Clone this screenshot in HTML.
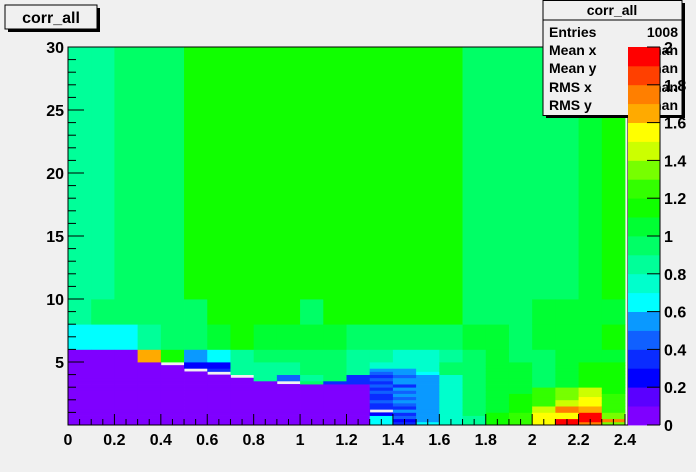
<!DOCTYPE html>
<html><head><meta charset="utf-8"><style>
html,body{margin:0;padding:0;background:#f0f0f0}
svg{display:block;font-family:"Liberation Sans",Arial,sans-serif;font-weight:bold}
</style></head><body>
<svg id="c" width="696" height="472" xmlns="http://www.w3.org/2000/svg">
<rect x="0" y="0" width="696" height="472" fill="#f0f0f0"/>
<g id="cells"></g>
<g id="axes"></g>
<g>
<rect x="8" y="8" width="92" height="24" fill="#000"/>
<rect x="5" y="5" width="92" height="24" fill="#f0f0f0" stroke="#000" stroke-width="1"/>
<text x="51" y="23" font-size="16" text-anchor="middle">corr_all</text>
</g>
<g>
<rect x="546" y="3" width="139" height="115" fill="#000"/>
<rect x="543" y="0.5" width="139" height="115" fill="#f0f0f0" stroke="#000"/>
<line x1="543" y1="20" x2="682" y2="20" stroke="#000"/>
<text x="612" y="15" font-size="14" text-anchor="middle">corr_all</text>
<text x="549" y="37" font-size="14">Entries</text>
<text x="678" y="37" font-size="14" text-anchor="end">1008</text>
<text x="549" y="55" font-size="14">Mean x</text>
<text x="678" y="55" font-size="14" text-anchor="end">nan</text>
<text x="549" y="73" font-size="14">Mean y</text>
<text x="678" y="73" font-size="14" text-anchor="end">nan</text>
<text x="549" y="92" font-size="14">RMS x</text>
<text x="678" y="92" font-size="14" text-anchor="end">nan</text>
<text x="549" y="110" font-size="14">RMS y</text>
<text x="678" y="110" font-size="14" text-anchor="end">nan</text>
</g>
<g id="cbar"></g>
</svg>
<script>
const xEdges=[0,0.1,0.2,0.3,0.4,0.5,0.6,0.7,0.8,0.9,1.0,1.1,1.2,1.3,1.4,1.5,1.6,1.7,1.8,1.9,2.0,2.1,2.2,2.3,2.4];
const yEdges=[0,0.25,0.5,0.75,1,1.25,1.5,1.75,2,2.25,2.5,2.75,3,3.25,3.5,3.75,4,4.25,4.5,4.75,5,6,8,10,30];
const xTicks=[0,0.2,0.4,0.6,0.8,1,1.2,1.4,1.6,1.8,2,2.2,2.4];
const xTickLabels=["0","0.2","0.4","0.6","0.8","1","1.2","1.4","1.6","1.8","2","2.2","2.4"];
const yTicks=[5,10,15,20,25,30];
const zTicks=[0,0.2,0.4,0.6,0.8,1,1.2,1.4,1.6,1.8,2];
const zTickLabels=["0","0.2","0.4","0.6","0.8","1","1.2","1.4","1.6","1.8","2"];
const palette=["#7f00ff","#5a00ff","#0000ff","#0a2cff","#1060ff","#0a99ff","#00ffff","#00ffcc","#00ff99","#00ff66","#00ff33","#10ff00","#33ff00","#77ff00","#ccff00","#ffff00","#ffaa00","#ff7f00","#ff4000","#ff0000"];
// each column: values bottom (y=0) to top (y=30), 24 bins; null = empty
const col00=[.05,.05,.05,.05,.05,.05,.05,.05,.05,.05,.05,.05,.05,.05,.05,.05,.05,.05,.05,.05,.05,.65,.85,.85];
const col01=[.05,.05,.05,.05,.05,.05,.05,.05,.05,.05,.05,.05,.05,.05,.05,.05,.05,.05,.05,.05,.05,.65,.9,.85];
const col02=[.05,.05,.05,.05,.05,.05,.05,.05,.05,.05,.05,.05,.05,.05,.05,.05,.05,.05,.05,.05,.05,.65,.9,.95];
const col03=[.05,.05,.05,.05,.05,.05,.05,.05,.05,.05,.05,.05,.05,.05,.05,.05,.05,.05,.05,.05,1.65,.85,.9,.95];
const col04=[.05,.05,.05,.05,.05,.05,.05,.05,.05,.05,.05,.05,.05,.05,.05,.05,.05,.05,.05,null,1.15,.9,.95,.95];
const col05=[.05,.05,.05,.05,.05,.05,.05,.05,.05,.05,.05,.05,.05,.05,.05,.05,.05,null,.25,.25,.55,.95,.95,1.1];
const col06=[.05,.05,.05,.05,.05,.05,.05,.05,.05,.05,.05,.05,.05,.05,.05,.05,null,.3,.25,.25,.65,1.05,1.1,1.1];
const col07=[.05,.05,.05,.05,.05,.05,.05,.05,.05,.05,.05,.05,.05,.05,.05,null,.85,.85,.85,.85,.85,1.1,1.1,1.1];
const col08=[.05,.05,.05,.05,.05,.05,.05,.05,.05,.05,.05,.05,.05,.05,.8,.8,.85,.85,.85,.85,.9,1.05,1.1,1.1];
const col09=[.05,.05,.05,.05,.05,.05,.05,.05,.05,.05,.05,.05,.05,null,.45,.45,.85,.85,.85,.85,.9,1.05,1.1,1.1];
const col10=[.05,.05,.05,.05,.05,.05,.05,.05,.05,.05,.05,.05,.05,.9,.85,.85,.9,.9,.9,.9,.95,1.05,.95,1.1];
const col11=[.05,.05,.05,.05,.05,.05,.05,.05,.05,.05,.05,.05,.05,.35,.9,.9,.9,.9,.9,.9,.9,1.05,1.1,1.1];
const col12=[.05,.05,.05,.05,.05,.05,.05,.05,.05,.05,.05,.05,.05,.35,.35,.35,.85,.85,.85,.85,.85,.95,1.1,1.1];
const col13=[.65,.6,.65,.25,null,.3,.35,.45,.3,.35,.45,.3,.45,.35,.45,.35,.45,.5,.7,.7,.8,.95,1.1,1.1];
const col14=[.3,.25,.45,.3,.5,.35,.45,.5,.4,.55,.45,.5,.35,.5,.55,.45,.5,.55,.7,.7,.75,.95,1.1,1.1];
const col15=[.6,.55,.5,.55,.5,.55,.5,.55,.5,.55,.5,.55,.5,.55,.5,.55,.65,.7,.7,.7,.75,.95,1.1,1.1];
const col16=[.7,.7,.7,.7,.7,.7,.7,.7,.7,.7,.7,.7,.7,.7,.7,.7,.9,.9,.9,.9,.8,.95,1.1,1.1];
const col17=[.85,.85,.85,.9,.9,.9,.9,.9,.9,.9,.9,.9,.9,.9,.9,.9,.9,.9,.9,.9,.95,1.0,.95,.95];
const col18=[1.15,1.15,1.15,1.15,1.05,1.05,1.05,1.05,1.0,1.0,1.0,1.0,1.0,1.0,1.0,1.0,1.0,1.0,1.0,1.0,1.05,1.0,.95,.95];
const col19=[1.2,1.2,1.2,1.2,1.1,1.1,1.1,1.1,1.1,1.1,1.0,1.0,1.0,1.0,1.0,1.0,1.0,1.0,1.0,1.0,.95,.95,.95,.95];
const col20=[1.5,1.5,1.5,1.5,1.4,1.4,1.2,1.2,1.2,1.2,1.2,1.2,.95,.95,.95,.95,.95,.95,.95,.95,.95,1.0,1.0,.95];
const col21=[1.9,1.9,1.5,1.5,1.75,1.75,1.45,1.45,1.3,1.3,1.3,1.3,1.05,1.05,1.05,1.05,1.05,1.05,1.05,1.05,1.0,1.0,1.0,.95];
const col22=[1.7,1.9,1.9,1.9,1.65,1.65,1.55,1.55,1.55,1.4,1.4,1.4,1.1,1.1,1.1,1.1,1.1,1.1,1.1,1.1,1.05,1.05,1.0,1.05];
const col23=[1.3,1.75,1.35,1.35,1.25,1.25,1.25,1.25,1.25,1.25,1.15,1.15,1.15,1.15,1.15,1.15,1.15,1.15,1.15,1.15,1.05,1.1,1.05,1.1];
const columns=[col00,col01,col02,col03,col04,col05,col06,col07,col08,col09,col10,col11,col12,col13,col14,col15,col16,col17,col18,col19,col20,col21,col22,col23];

const NS="http://www.w3.org/2000/svg";
const X0=68,X1=625,Y0=425,Y1=47;
const xScale=v=>X0+(v-0)/(2.4-0)*(X1-X0);
const yScale=v=>Y0-(v-0)/(30-0)*(Y0-Y1);
const zScale=v=>Y0-(v-0)/(2-0)*(Y0-Y1);
const colorOf=v=>palette[Math.max(0,Math.min(19,Math.floor(v/0.1+1e-9)))];
function mk(tag,attrs,parent){const e=document.createElementNS(NS,tag);for(const k in attrs)e.setAttribute(k,attrs[k]);parent.appendChild(e);return e;}

const cells=document.getElementById('cells');
columns.forEach((col,i)=>{
  col.forEach((v,j)=>{
    if(v===null)return;
    const x=xScale(xEdges[i]),x2=xScale(xEdges[i+1]);
    const y=yScale(yEdges[j+1]),y2=yScale(yEdges[j]);
    const r=mk('rect',{x:x,y:y,width:x2-x+0.4,height:y2-y+0.4,fill:colorOf(v)},cells);
    
    
  });
});

const axes=document.getElementById('axes');
mk('rect',{x:X0,y:Y1,width:X1-X0+3,height:Y0-Y1,fill:'none',stroke:'#000','stroke-width':1},axes);
for(let k=0;k<=48;k++){
  const v=k*0.05;const x=xScale(v);
  const major=(k%4===0);
  mk('line',{x1:x,y1:Y0,x2:x,y2:Y0-(major?11:6),stroke:'#000'},axes);
}
xTicks.forEach((v,i)=>{
  const t=mk('text',{x:xScale(v),y:Y0+20,'font-size':16,'text-anchor':'middle'},axes);
  t.textContent=xTickLabels[i];
  
  
});
for(let k=0;k<=30;k++){
  const y=yScale(k);const major=(k%5===0);
  mk('line',{x1:X0,y1:y,x2:X0+(major?16:8),y2:y,stroke:'#000'},axes);
}
yTicks.forEach(v=>{
  const t=mk('text',{x:X0-4,y:yScale(v)+6,'font-size':16,'text-anchor':'end'},axes);
  t.textContent=String(v);
  
  
});

const cbar=document.getElementById('cbar');
palette.forEach((c,i)=>{
  const y=zScale((i+1)*0.1),y2=zScale(i*0.1);
  const r=mk('rect',{x:628,y:y,width:32,height:y2-y+0.4,fill:c},cbar);
  
  
});
mk('line',{x1:660,y1:Y1,x2:660,y2:Y0,stroke:'#000'},cbar);
zTicks.forEach((v,i)=>{
  const y=zScale(v);
  mk('line',{x1:660,y1:y,x2:647,y2:y,stroke:'#000'},cbar);
  const t=mk('text',{x:664,y:y+6,'font-size':16},cbar);
  t.textContent=zTickLabels[i];
  
  
});
</script>
</body></html>
